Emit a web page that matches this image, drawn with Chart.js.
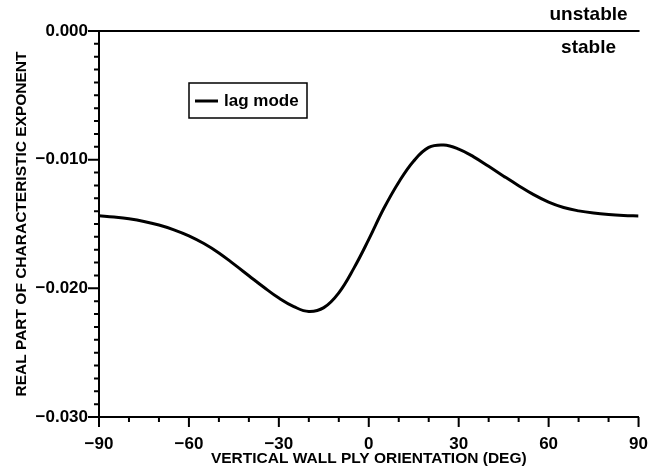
<!DOCTYPE html>
<html>
<head>
<meta charset="utf-8">
<script src="https://cdn.jsdelivr.net/npm/chart.js@4/dist/chart.umd.min.js"></script>
<style>
  html, body { margin: 0; padding: 0; background: #fff; }
  canvas { display: block; }
</style>
</head>
<body>
<canvas id="chart" width="665" height="475"></canvas>
<script>
// ply angle (deg) and real part of the characteristic exponent
const angles = [-90, -85, -80, -75, -70, -65, -60, -55, -50, -45, -40, -35, -30, -25, -20, -15, -10, -5,
  0, 5, 10, 15, 20, 25, 30, 35, 40, 45, 50, 55, 60, 65, 70, 75, 80, 85, 90];
const lagMode = [-0.01435, -0.01446, -0.01460, -0.01480, -0.01508, -0.01545, -0.01592, -0.01652, -0.01725,
  -0.01812, -0.01902, -0.01992, -0.02076, -0.02142, -0.02180, -0.02150, -0.02035, -0.01845,
  -0.01620, -0.01380, -0.01175, -0.01010, -0.00905, -0.00886, -0.00918, -0.00978, -0.01052,
  -0.01128, -0.01202, -0.01272, -0.01330, -0.01372, -0.01398, -0.01415, -0.01426, -0.01433, -0.01437];

const xLabels = [-90, -60, -30, 0, 30, 60, 90];
const yLabels = [0, -0.01, -0.02, -0.03];

const FONT = "'Liberation Sans', Arial, Helvetica, sans-serif";
const MINUS = "\u2212";

function fmtX(v) {
  return v < 0 ? MINUS + Math.abs(v) : String(v);
}
function fmtY(v) {
  return v < 0 ? MINUS + Math.abs(v).toFixed(3) : "0.000";
}
function isYLabel(v) {
  return yLabels.some((l) => Math.abs(l - v) < 1e-7);
}

// ticks of two lengths, the 0 line across the top, legend box and the stable/unstable note
const decor = {
  id: "decor",
  afterDraw(chart) {
    const { ctx, chartArea: area, scales } = chart;
    const x = scales.x, y = scales.y;
    ctx.save();
    ctx.strokeStyle = "#000";
    ctx.lineWidth = 2;
    ctx.beginPath();
    x.ticks.forEach((t) => {
      const px = x.getPixelForValue(t.value);
      const len = xLabels.includes(Math.round(t.value)) ? 10 : 5;
      ctx.moveTo(px, area.bottom);
      ctx.lineTo(px, area.bottom + len);
    });
    y.ticks.forEach((t) => {
      const py = y.getPixelForValue(t.value);
      const len = isYLabel(t.value) ? 11 : 5;
      ctx.moveTo(area.left, py);
      ctx.lineTo(area.left - len, py);
    });
    const y0 = y.getPixelForValue(0);
    ctx.moveTo(area.left, y0);
    ctx.lineTo(area.right + 1, y0);
    ctx.stroke();

    // legend
    const bx = area.left + 90, by = area.top + 52;
    ctx.lineWidth = 1.5;
    ctx.strokeRect(bx, by, 118, 35);
    ctx.lineWidth = 3;
    ctx.beginPath();
    ctx.moveTo(bx + 6, by + 18);
    ctx.lineTo(bx + 29, by + 18);
    ctx.stroke();
    ctx.fillStyle = "#000";
    ctx.font = "bold 17px " + FONT;
    ctx.textAlign = "left";
    ctx.textBaseline = "middle";
    ctx.fillText(chart.data.datasets[0].label, bx + 35, by + 18);

    ctx.font = "bold 19px " + FONT;
    ctx.textAlign = "center";
    ctx.fillText("unstable", area.right - 50, y0 - 16);
    ctx.fillText("stable", area.right - 50, y0 + 17);
    ctx.restore();
  },
};

new Chart(document.getElementById("chart"), {
  type: "line",
  data: {
    datasets: [
      {
        label: "lag mode",
        data: angles.map((a, i) => ({ x: a, y: lagMode[i] })),
        borderColor: "#000",
        borderWidth: 3,
        pointRadius: 0,
        fill: false,
        tension: 0.4,
      },
    ],
  },
  options: {
    responsive: false,
    animation: false,
    layout: { padding: { top: 31, right: 23, left: 0, bottom: 0 } },
    plugins: { legend: { display: false }, tooltip: { enabled: false } },
    scales: {
      x: {
        type: "linear",
        min: -90,
        max: 90,
        afterFit(s) { s.height = 58; },
        grid: { display: false, drawTicks: false },
        border: { display: true, color: "#000", width: 2 },
        ticks: {
          stepSize: 10,
          autoSkip: false,
          maxRotation: 0,
          padding: 17,
          color: "#000",
          font: { family: FONT, size: 17, weight: "bold" },
          callback: (v) => (xLabels.includes(Math.round(v)) ? fmtX(Math.round(v)) : ""),
        },
        title: {
          display: true,
          text: "VERTICAL WALL PLY ORIENTATION (DEG)",
          color: "#000",
          font: { family: FONT, size: 15.5, weight: "bold" },
          padding: { top: 0, bottom: 7 },
        },
      },
      y: {
        type: "linear",
        min: -0.03,
        max: 0,
        afterFit(s) { s.width = 99; },
        grid: { display: false, drawTicks: false },
        border: { display: true, color: "#000", width: 2 },
        ticks: {
          stepSize: 0.001,
          autoSkip: false,
          padding: 11,
          color: "#000",
          font: { family: FONT, size: 17, weight: "bold" },
          callback: (v) => (isYLabel(v) ? fmtY(v) : ""),
        },
        title: {
          display: true,
          text: "REAL PART OF CHARACTERISTIC EXPONENT",
          color: "#000",
          font: { family: FONT, size: 15.5, weight: "bold" },
          padding: { top: 12, bottom: 0 },
        },
      },
    },
  },
  plugins: [decor],
});
</script>
</body>
</html>
